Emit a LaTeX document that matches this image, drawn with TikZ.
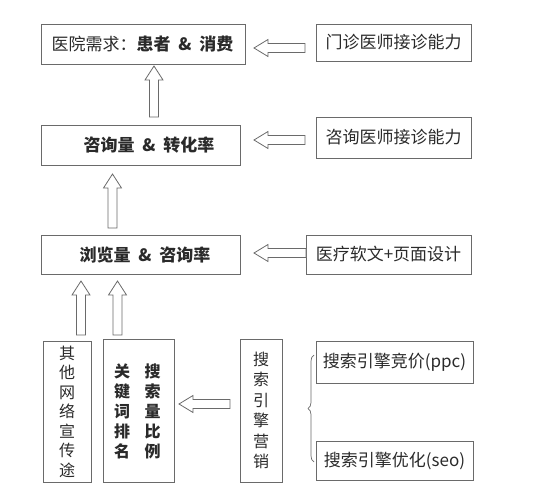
\documentclass[tikz,border=0pt]{standalone}
\usepackage{fontspec}
\setmainfont{Noto Sans CJK SC}
\usetikzlibrary{decorations.pathreplacing}
\definecolor{bord}{HTML}{6A6A6A}
\definecolor{txt}{HTML}{2A2A2A}
\tikzset{
  box/.style={draw=bord, line width=0.9pt, rectangle, inner sep=0pt, text=txt, font=\fontsize{16}{20}\selectfont},
  vbox/.style={box, align=center, font=\fontsize{16}{19.5}\selectfont},
  vtext/.style={draw=none, inner sep=0pt, text=txt, align=center, font=\fontsize{16}{20}\selectfont\bfseries},
  btext/.style={text=txt, inner sep=0pt, font=\fontsize{17}{20}\selectfont},
  harrow/.style={draw=bord, line width=0.8pt, fill=white, line join=miter},
}
% up arrow: x center, tip y, bottom y
\newcommand\uparw[3]{\draw[harrow] (#1-4.5,#3) -- (#1-4.5,#2+14) -- (#1-9,#2+14) -- (#1,#2) -- (#1+9,#2+14) -- (#1+4.5,#2+14) -- (#1+4.5,#3) -- cycle;}
% left arrow: tip x, tail x, y center
\newcommand\leftarw[3]{\draw[harrow] (#2,#3-4.5) -- (#1+14,#3-4.5) -- (#1+14,#3-8.5) -- (#1,#3) -- (#1+14,#3+8.5) -- (#1+14,#3+4.5) -- (#2,#3+4.5) -- cycle;}
\begin{document}
\begin{tikzpicture}[x=1pt,y=-1pt]
\useasboundingbox (0,0) rectangle (536,500);
% main column
\node[box, minimum width=204pt, minimum height=40pt] (b1) at (143,44) {};
\node[btext] (t1) at (142.5,44) {医院需求：\textbf{患者 \ \&\ \ 消费}};
\node[box, minimum width=199pt, minimum height=40pt] (b2) at (140.5,145) {};
\node[btext] (t2) at (149,145) {\textbf{咨询量 \ \&\ \ 转化率}};
\node[box, minimum width=199pt, minimum height=39pt] (b3) at (140.5,254.5) {};
\node[btext] (t3) at (145,254.5) {\textbf{浏览量 \ \&\ \ 咨询率}};
% right column
\node[box, minimum width=155pt, minimum height=37pt, font=\fontsize{17}{20}\selectfont] (r1) at (393.5,42.5) {门诊医师接诊能力};
\node[box, minimum width=155pt, minimum height=41pt, font=\fontsize{17}{20}\selectfont] (r2) at (393.5,137.5) {咨询医师接诊能力};
\node[box, minimum width=165pt, minimum height=39pt, font=\fontsize{17}{20}\selectfont] (r3) at (388.5,254.5) {医疗软文+页面设计};
% bottom row
\node[vbox, minimum width=48pt, minimum height=141pt] (v1) at (67,411.5) {其\\他\\网\\络\\宣\\传\\途};
\node[box, minimum width=71pt, minimum height=143pt] (v2) at (138.5,410.5) {};
\node[vtext] (v2a) at (122,411) {关\\键\\词\\排\\名};
\node[vtext] (v2b) at (152.5,411) {搜\\索\\量\\比\\例};
\node[vbox, minimum width=42pt, minimum height=143pt, font=\fontsize{16}{20.5}\selectfont] (v3) at (261,410.5) {搜\\索\\引\\擎\\营\\销};
\node[box, minimum width=157pt, minimum height=42pt, font=\fontsize{17}{20}\selectfont] (r4) at (394.5,362) {搜索引擎竞价(ppc)};
\node[box, minimum width=157pt, minimum height=39pt, font=\fontsize{17}{20}\selectfont] (r5) at (394.5,460.5) {搜索引擎优化(seo)};
% hollow arrows
\uparw{154}{66}{117}
\uparw{112.5}{174}{228}
\uparw{81}{281}{335}
\uparw{117.5}{281}{335}
\leftarw{254}{305}{48}
\leftarw{254}{305}{140}
\leftarw{254}{306}{253}
\leftarw{179}{230}{404}
% brace
\coordinate (bb) at (314,462);
\coordinate (bt) at (314,355);
\draw[bord, line width=0.7pt, decorate, decoration={brace, amplitude=6pt}] (bb) -- (bt);
\end{tikzpicture}
\end{document}
